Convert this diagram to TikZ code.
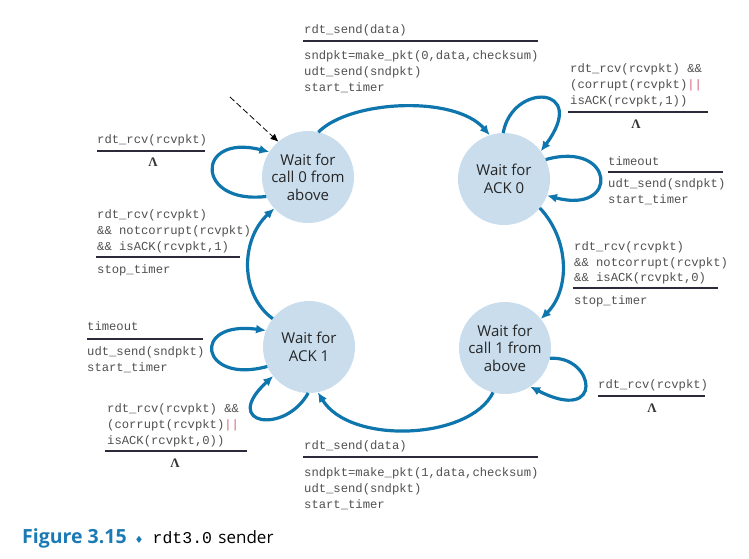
\documentclass[tikz,border=0pt]{standalone}
\usepackage{fontspec}
\usetikzlibrary{arrows.meta}
\newfontfamily\monof{Liberation Mono}
\newfontfamily\sansf{Open Sans}
\newfontfamily\lamf{Liberation Serif}
\newfontfamily\symf{DejaVu Sans}
\definecolor{arrowblue}{HTML}{0E76AC}
\definecolor{statefill}{HTML}{C9DDED}
\definecolor{txtgray}{HTML}{505050}
\definecolor{rulecol}{HTML}{2A2A3A}
\definecolor{barred}{HTML}{D0607A}
\definecolor{capblue}{HTML}{1A7AB5}
\newcommand{\orbars}{{\color{barred}||}}
\begin{document}
\begin{tikzpicture}[x=1pt,y=-1pt,
  state/.style={circle, fill=statefill, minimum size=92pt, inner sep=0pt, outer sep=0pt, align=center, font=\sansf\fontsize{15}{17.5}\selectfont, text=black!85},
  trans/.style={draw=arrowblue, line width=3.2pt, -{Latex[length=10pt,width=9pt]}},
  lbl/.style={font=\monof\fontsize{12.2}{16}\selectfont, text=txtgray, inner sep=0pt, anchor=base west},
  rulel/.style={draw=rulecol, line width=1.2pt},
  lam/.style={font=\lamf\bfseries\fontsize{13}{14}\selectfont, text=black!80, inner sep=0pt, anchor=base},
]
\useasboundingbox (0,0) rectangle (749,558);

% states
\node[state] (s0) at (308,177) {Wait for\\call 0 from\\above};
\node[state] (s1) at (504,179) {Wait for\\ACK 0};
\node[state] (s2) at (309,347) {Wait for\\ACK 1};
\node[state] (s3) at (505,348) {Wait for\\call 1 from\\above};

% initial dashed arrow
\coordinate (init) at (230,97);
\draw[black, line width=0.8pt, dash pattern=on 6pt off 3pt, -{Latex[length=8pt,width=7pt]}] (init) -- (s0.130);

% transitions
\draw[trans] (s0.77) .. controls (350,100) and (455,95) .. (s1.108);
\draw[trans] (s1.91) .. controls (512,82) and (590,85) .. (s1.37);
\draw[trans] (s1.25) .. controls (615,140) and (620,215) .. (s1.339);
\draw[trans] (s1.321) .. controls (570,240) and (570,290) .. (s3.39);
\draw[trans] (s3.347) .. controls (595,355) and (605,425) .. (s3.303);
\draw[trans] (s3.255) .. controls (470,440) and (350,445) .. (s2.281);
\draw[trans] (s2.269) .. controls (285,435) and (220,425) .. (s2.219);
\draw[trans] (s2.205) .. controls (200,385) and (190,320) .. (s2.159);
\draw[trans] (s2.142) .. controls (240,295) and (240,240) .. (s0.223);
\draw[trans] (s0.205) .. controls (195,205) and (195,133) .. (s0.147);

% A: top
\node[lbl] (a0) at (304,33) {rdt\_send(data)};
\draw[rulel] (303,41) -- (538,41);
\foreach \t [count=\i] in {{sndpkt=make\_pkt(0,data,checksum)},{udt\_send(sndpkt)},{start\_timer}}
  \node[lbl] (a\i) at (304,{59+16*(\i-1)}) {\t};

% B: top right
\node[lbl] (b1) at (570,72) {rdt\_rcv(rcvpkt) \&\&};
\node[lbl] (b2) at (570,88) {(corrupt(rcvpkt)\orbars};
\node[lbl] (b3) at (570,104) {isACK(rcvpkt,1))};
\draw[rulel] (568,112) -- (708,112);
\node[lam] (b4) at (636,128) {Λ};

% C: left of s0
\node[lbl] (c1) at (97,143) {rdt\_rcv(rcvpkt)};
\draw[rulel] (97,151) -- (205,151);
\node[lam] (c2) at (153,166) {Λ};

% D: right of s1
\node[lbl] (d1) at (608,165) {timeout};
\draw[rulel] (608,172) -- (723,172);
\node[lbl] (d2) at (608,187) {udt\_send(sndpkt)};
\node[lbl] (d3) at (608,203) {start\_timer};

% E: left middle
\node[lbl] (e1) at (97,218) {rdt\_rcv(rcvpkt)};
\node[lbl] (e2) at (97,234) {\&\& notcorrupt(rcvpkt)};
\node[lbl] (e3) at (97,250) {\&\& isACK(rcvpkt,1)};
\draw[rulel] (96,257) -- (240,257);
\node[lbl] (e4) at (97,273) {stop\_timer};

% F: right middle
\node[lbl] (f1) at (574,250) {rdt\_rcv(rcvpkt)};
\node[lbl] (f2) at (574,266) {\&\& notcorrupt(rcvpkt)};
\node[lbl] (f3) at (574,281) {\&\& isACK(rcvpkt,0)};
\draw[rulel] (573,288) -- (718,288);
\node[lbl] (f4) at (574,304) {stop\_timer};

% G: left of s2
\node[lbl] (g1) at (87,330) {timeout};
\draw[rulel] (87,339) -- (203,339);
\node[lbl] (g2) at (87,355) {udt\_send(sndpkt)};
\node[lbl] (g3) at (87,371) {start\_timer};

% H: lower left
\node[lbl] (h1) at (107,412) {rdt\_rcv(rcvpkt) \&\&};
\node[lbl] (h2) at (107,428) {(corrupt(rcvpkt)\orbars};
\node[lbl] (h3) at (107,444) {isACK(rcvpkt,0))};
\draw[rulel] (105,451) -- (247,451);
\node[lam] (h4) at (175,467) {Λ};

% I: right of s3
\node[lbl] (i1) at (598,388) {rdt\_rcv(rcvpkt)};
\draw[rulel] (598,396) -- (705,396);
\node[lam] (i2) at (652,412) {Λ};

% J: bottom
\node[lbl] (j0) at (304,449) {rdt\_send(data)};
\draw[rulel] (303,457) -- (538,457);
\foreach \t [count=\i] in {{sndpkt=make\_pkt(1,data,checksum)},{udt\_send(sndpkt)},{start\_timer}}
  \node[lbl] (j\i) at (304,{476+16*(\i-1)}) {\t};

% caption
\node[anchor=base west, inner sep=0pt, font=\sansf\fontsize{17}{20}\selectfont] (cap) at (22,543)
  {{\color{capblue}\bfseries\fontsize{19.5}{22}\selectfont Figure 3.15}\hspace{8pt}{\symf\color{capblue}\fontsize{10}{12}\selectfont ♦}\hspace{9pt}{\monof\fontsize{16.5}{20}\selectfont rdt3.0}\hspace{2pt} sender};
\end{tikzpicture}
\end{document}
